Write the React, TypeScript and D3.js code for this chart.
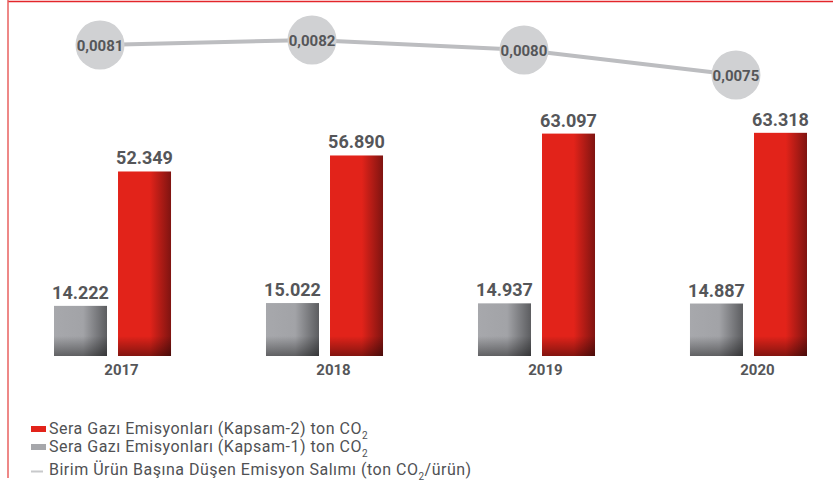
import React, { useEffect, useRef } from "react";
import * as d3 from "d3";

// data
const years = ["2017", "2018", "2019", "2020"];
const kapsam1 = [14222, 15022, 14937, 14887]; // gray bars
const kapsam2 = [52349, 56890, 63097, 63318]; // red bars
const birim = [0.0081, 0.0082, 0.008, 0.0075]; // line

const seriesKeys = ["k1", "k2"];

const legendRows = [
  { type: "rect", color: "#e2231a", text: "Sera Gazı Emisyonları (Kapsam-2) ton CO", tail: "" },
  { type: "rect", color: "#a6a7ab", text: "Sera Gazı Emisyonları (Kapsam-1) ton CO", tail: "" },
  { type: "line", color: "#c8c9cb", text: "Birim Ürün Başına Düşen Emisyon Salımı (ton CO", tail: "/ürün)" },
];

const trLocale = d3.formatLocale({
  decimal: ",",
  thousands: ".",
  grouping: [3],
  currency: ["", " TL"],
});

export default function App() {
  const ref = useRef<SVGSVGElement | null>(null);

  useEffect(() => {
    const width = 833,
      baseline = 356;

    const svg = d3.select(ref.current);
    svg.selectAll("*").remove();

    const defs = svg.append("defs");

    // horizontal shading of the bars
    const redH = defs.append("linearGradient").attr("id", "redH");
    redH.append("stop").attr("offset", "0").attr("stop-color", "#e2231a");
    redH.append("stop").attr("offset", "0.6").attr("stop-color", "#e2231a");
    redH.append("stop").attr("offset", "1").attr("stop-color", "#7f1411");

    const grayH = defs.append("linearGradient").attr("id", "grayH");
    grayH.append("stop").attr("offset", "0").attr("stop-color", "#a7a8ac");
    grayH.append("stop").attr("offset", "0.55").attr("stop-color", "#a2a3a7");
    grayH.append("stop").attr("offset", "1").attr("stop-color", "#5c5d60");

    // darkening near the bottom, same for every bar
    const shadeV = defs
      .append("linearGradient")
      .attr("id", "shadeV")
      .attr("gradientUnits", "userSpaceOnUse")
      .attr("x1", 0)
      .attr("x2", 0)
      .attr("y1", baseline - 20)
      .attr("y2", baseline);
    shadeV.append("stop").attr("offset", "0").attr("stop-color", "#000").attr("stop-opacity", 0);
    shadeV.append("stop").attr("offset", "1").attr("stop-color", "#000").attr("stop-opacity", 0.42);

    // frame
    svg
      .append("line")
      .attr("x1", 8)
      .attr("x2", width)
      .attr("y1", 1.5)
      .attr("y2", 1.5)
      .attr("stroke", "#e3262b")
      .attr("stroke-width", 1.5);
    svg
      .append("line")
      .attr("x1", 8)
      .attr("x2", 8)
      .attr("y1", 0)
      .attr("y2", 478)
      .attr("stroke", "#e8605f")
      .attr("stroke-width", 1.5);

    // scales
    const x0 = d3.scaleBand().domain(years).range([54, 807]).paddingInner(0.448);
    const x1 = d3.scaleBand().domain(seriesKeys).range([0, x0.bandwidth()]).paddingInner(0.172);
    const y = d3.scaleLinear().domain([0, 101000]).range([baseline, 0]);
    const y2 = d3.scaleLinear().domain([0.007, 0.0085]).range([100, 25]);

    const fmtInt = trLocale.format(",d");
    const fmtDec = trLocale.format(".4f");

    const bars = years.map((yr, i) => ({ yr, k1: kapsam1[i], k2: kapsam2[i] }));

    const groups = svg
      .selectAll("g.grp")
      .data(bars)
      .enter()
      .append("g")
      .attr("class", "grp")
      .attr("transform", (d) => "translate(" + x0(d.yr) + ",0)");

    seriesKeys.forEach((key) => {
      const fill = key === "k1" ? "url(#grayH)" : "url(#redH)";
      groups
        .append("rect")
        .attr("x", x1(key)!)
        .attr("y", (d: any) => y(d[key]))
        .attr("width", x1.bandwidth())
        .attr("height", (d: any) => baseline - y(d[key]))
        .attr("fill", fill);
      groups
        .append("rect")
        .attr("x", x1(key)!)
        .attr("y", (d: any) => y(d[key]))
        .attr("width", x1.bandwidth())
        .attr("height", (d: any) => baseline - y(d[key]))
        .attr("fill", "url(#shadeV)");
      groups
        .append("text")
        .attr("x", x1(key)! + x1.bandwidth() / 2)
        .attr("y", (d: any) => y(d[key]) - 7)
        .attr("text-anchor", "middle")
        .style("font-family", "Roboto, sans-serif")
        .style("font-weight", "bold")
        .style("font-size", "18px")
        .style("fill", "#555659")
        .text((d: any) => fmtInt(d[key]));
    });

    // year labels
    groups
      .append("text")
      .attr("x", x0.bandwidth() / 2 + 9)
      .attr("y", 375)
      .attr("text-anchor", "middle")
      .style("font-family", "Roboto, sans-serif")
      .style("font-weight", "bold")
      .style("font-size", "15px")
      .style("fill", "#555659")
      .text((d) => d.yr);

    // unit emission line
    const pts = years.map((yr, i) => ({ x: x0(yr)! + 46, y: y2(birim[i]), v: birim[i] }));
    const line = d3
      .line<{ x: number; y: number }>()
      .x((d) => d.x)
      .y((d) => d.y);
    svg
      .append("path")
      .attr("d", line(pts))
      .attr("fill", "none")
      .attr("stroke", "#bcbdc0")
      .attr("stroke-width", 4);
    svg
      .selectAll("circle.pt")
      .data(pts)
      .enter()
      .append("circle")
      .attr("class", "pt")
      .attr("cx", (d) => d.x)
      .attr("cy", (d) => d.y)
      .attr("r", 24.5)
      .attr("fill", "#d0d1d3");
    svg
      .selectAll("text.pt")
      .data(pts)
      .enter()
      .append("text")
      .attr("class", "pt")
      .attr("x", (d) => d.x)
      .attr("y", (d) => d.y + 5.5)
      .attr("text-anchor", "middle")
      .style("font-family", "Roboto, sans-serif")
      .style("font-weight", "bold")
      .style("font-size", "15px")
      .style("fill", "#555659")
      .text((d) => fmtDec(d.v));

    // legend
    const legendY = [434, 452, 475];
    legendRows.forEach((row, i) => {
      const g = svg.append("g").attr("transform", "translate(0," + legendY[i] + ")");
      if (row.type === "rect") {
        g.append("rect").attr("x", 31).attr("y", -8).attr("width", 15).attr("height", 6).attr("fill", row.color);
      } else {
        g.append("rect").attr("x", 31).attr("y", -4.5).attr("width", 12).attr("height", 2).attr("fill", row.color);
      }
      const t = g
        .append("text")
        .attr("x", 49)
        .attr("y", 0)
        .style("font-family", "Roboto, sans-serif")
        .style("font-size", "16px")
        .style("letter-spacing", "0.5px")
        .style("fill", "#505154");
      t.append("tspan").text(row.text);
      t.append("tspan").attr("dy", 5).style("font-size", "10px").text("2");
      if (row.tail) t.append("tspan").attr("dy", -5).text(row.tail);
    });
  }, []);

  return (
    <svg
      ref={ref}
      width={833}
      height={489}
      style={{ position: "absolute", left: 0, top: 0, background: "#fff" }}
    ></svg>
  );
}
